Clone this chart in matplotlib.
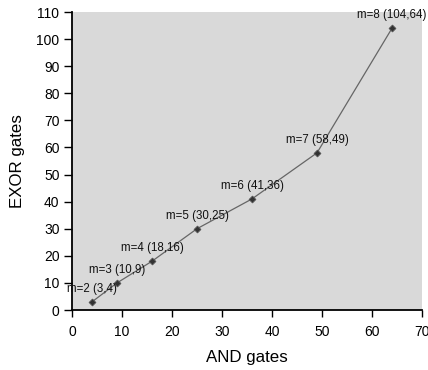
import matplotlib
matplotlib.use("Agg")
import matplotlib.pyplot as plt

and_gates = [4, 9, 16, 25, 36, 49, 64]
exor_gates = [3, 10, 18, 30, 41, 58, 104]
labels = ["m=2 (3,4)", "m=3 (10,9)", "m=4 (18,16)", "m=5 (30,25)",
          "m=6 (41,36)", "m=7 (58,49)", "m=8 (104,64)"]
xticks = [0, 10, 20, 30, 40, 50, 60, 70]
yticks = [0, 10, 20, 30, 40, 50, 60, 70, 80, 90, 100, 110]

plt.rcParams['font.family'] = ['Liberation Sans', 'DejaVu Sans']

fig = plt.figure(figsize=(4.28, 3.70), dpi=100)
ax = fig.add_axes([72/428, 60/370, 350/428, 298/370])
ax.set_facecolor('#d9d9d9')
ax.plot(and_gates, exor_gates, color='#666666', lw=0.9,
        marker='D', ms=3.5, mfc='#333333', mec='#555555', mew=0.6, zorder=3)
for x, y, t in zip(and_gates, exor_gates, labels):
    ax.annotate(t, (x, y), xytext=(0, 5), textcoords='offset points',
                ha='center', va='bottom', fontsize=8.3, color='#111111')

ax.set_xlim(0, 70)
ax.set_ylim(0, 110)
ax.set_xticks(xticks)
ax.set_yticks(yticks)
ax.tick_params(axis='x', labelsize=10, length=5, width=1, direction='out', pad=6)
ax.tick_params(axis='y', labelsize=10, length=6, width=1, direction='out', pad=3)
for s in ['top', 'right']:
    ax.spines[s].set_visible(False)
for s in ['left', 'bottom']:
    ax.spines[s].set_linewidth(1.3)
ax.set_xlabel('AND gates', fontsize=12.2, labelpad=8)
ax.set_ylabel('EXOR gates', fontsize=12.2, labelpad=8)

fig.savefig('out.png', dpi=100)
